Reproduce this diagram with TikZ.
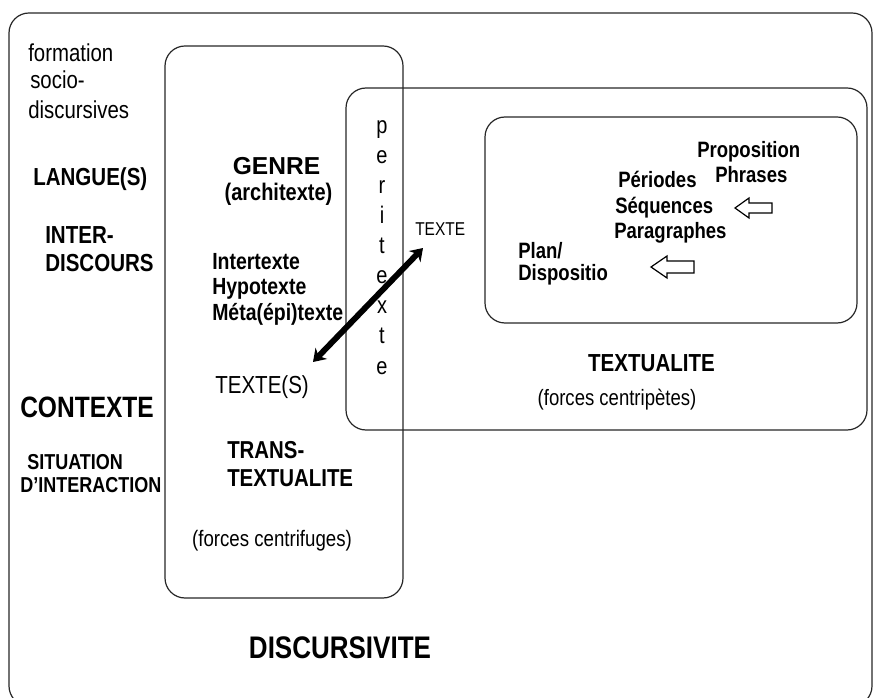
\documentclass[tikz,border=0pt]{standalone}
\usepackage{fontspec}
\setmainfont{Liberation Sans}
\usetikzlibrary{arrows.meta}
\newcommand{\tl}[1]{\scalebox{1}[1.2]{#1}}
\begin{document}
\begin{tikzpicture}[x=0.75pt,y=-0.75pt,
  box/.style={draw=black!85, line width=0.9pt, rounded corners=15pt},
  fr/.style={inner sep=0pt, text=black, font=\fontsize{#1pt}{#1pt}\selectfont},
  fb/.style={inner sep=0pt, text=black, font=\fontsize{#1pt}{#1pt}\selectfont\bfseries},
  L/.style={anchor=west},
  openarrow/.style={draw=black, line width=0.9pt, fill=white},
  bigarrow/.style={line width=4.4pt, {Stealth[length=9pt,width=12pt]}-{Stealth[length=9pt,width=12pt]}}
]
\useasboundingbox (0,0) rectangle (874,698);
\clip (0,0) rectangle (874,698);

% frames
\draw[box] (9,13) rectangle (872,706);
\draw[box] (165,46) rectangle (403,598);
\draw[box] (346,88) rectangle (867,430);
\draw[box] (485,117) rectangle (857,323);

% left column
\node[fr=15.3, L] (formation) at (28,53) {\tl{formation}};
\node[fr=15.3, L] (socio) at (30,80) {\tl{socio-}};
\node[fr=15.3, L] (discursives) at (28,110) {\tl{discursives}};
\node[fb=15.4, L] (langue) at (33,179) {\tl{LANGUE(S)}};
\node[fb=15.4, L] (inter) at (45,235) {\tl{INTER-}};
\node[fb=15.4, L] (discours) at (45,263) {\tl{DISCOURS}};
\node[fb=18.4, L] (contexte) at (20,407) {\tl{CONTEXTE}};
\node[fb=13.5, L] (situation) at (27,462) {\tl{SITUATION}};
\node[fb=13.5, L] (interaction) at (20,485) {\tl{D'INTERACTION}};

% genre column
\node[fb=18.4] (genre) at (276.5,166) {GENRE};
\node[fb=15] (archi) at (278.5,194) {\tl{(architexte)}};
\node[fb=14.6, L] (intertexte) at (212,262) {\tl{Intertexte}};
\node[fb=14.6, L] (hypotexte) at (212,289) {\tl{Hypotexte}};
\node[fb=14.6, L] (meta) at (212,314) {\tl{Méta(épi)texte}};
\node[fr=15.4, L] (textes) at (215,387) {\tl{TEXTE(S)}};
\node[fb=15.3, L] (trans) at (227,450) {\tl{TRANS-}};
\node[fb=15.3, L] (transtext) at (227,478) {\tl{TEXTUALITE}};
\node[fr=14] (centrifuges) at (272,541) {\tl{(forces centrifuges)}};
\node[fb=19.5] (discursivite) at (340,648) {\tl{DISCURSIVITE}};

% peritexte
\foreach \l [count=\i from 0] in {p,e,r,i,t,e,x,t,e}
  \node[fr=15, anchor=base] (peri\i) at (382,{134+30*\i}) {\tl{\l}};

% texte + arrow
\node[fr=11.6, L] (texte) at (415,229) {\tl{TEXTE}};
\coordinate (a1) at (313,362);
\coordinate (a2) at (423,248);
\draw[bigarrow] (a1) -- (a2);

% textualite
\node[fb=15.4] (textualite) at (651.5,363) {\tl{TEXTUALITE}};
\node[fr=13.9] (centripetes) at (617,400) {\tl{(forces centripètes)}};

% inner box
\node[fb=13.9, L] (proposition) at (697,152) {\tl{Proposition}};
\node[fb=13.9, L] (phrases) at (715,175) {\tl{Phrases}};
\node[fb=13.9, L] (periodes) at (618,179) {\tl{Périodes}};
\node[fb=13.9, L] (sequences) at (615,208) {\tl{Séquences}};
\node[fb=13.9, L] (paragraphes) at (614,233) {\tl{Paragraphes}};
\node[fb=13.9, L] (plan) at (518,251) {\tl{Plan/}};
\node[fb=13.9, L] (dispositio) at (518,275) {\tl{Dispositio}};

% open block arrows
\draw[openarrow] (735,208) -- (749,198) -- (749,203) -- (772,203) -- (772,213) -- (749,213) -- (749,218) -- cycle;
\draw[openarrow] (651,267) -- (667,256) -- (667,261) -- (694,261) -- (694,273) -- (667,273) -- (667,278) -- cycle;
\end{tikzpicture}
\end{document}
